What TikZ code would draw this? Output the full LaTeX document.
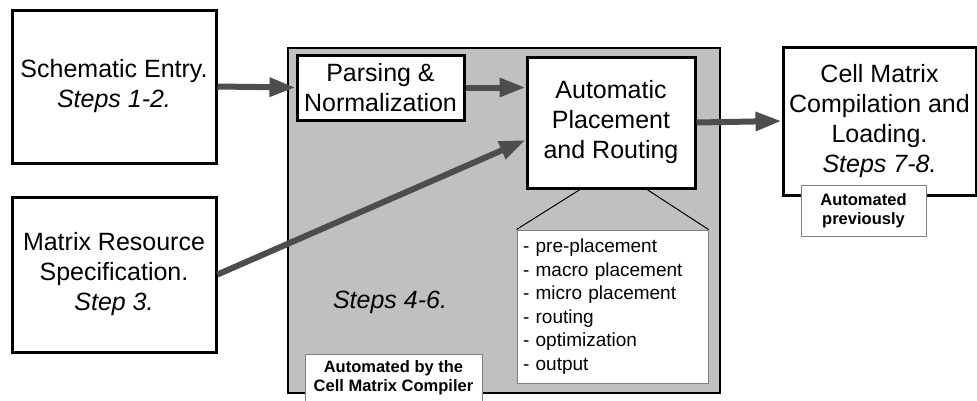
\documentclass[tikz,border=0pt]{standalone}
\usepackage{fontspec}
\setmainfont{Liberation Sans}
\usetikzlibrary{arrows.meta}
\definecolor{panelgray}{HTML}{C0C0C0}
\definecolor{flowgray}{HTML}{4D4D4D}
\definecolor{edgegray}{HTML}{808080}
\begin{document}
\begin{tikzpicture}[
 x=1pt,y=-1pt,
 every node/.style={font=\fontsize{25}{30}\selectfont,inner sep=0pt},
 stage/.style={draw,line width=3pt,fill=white,align=center},
 tag/.style={draw=edgegray,line width=1pt,fill=white,align=center,
  font=\fontsize{16.5}{19.5}\selectfont\bfseries},
 flow/.style={draw=flowgray,line width=6pt,-{Triangle[length=26pt,width=18pt]}}
]
 \useasboundingbox (0,0) rectangle (977,400);

 % the compiler panel holds steps 4 to 6
 \node[draw,line width=2pt,fill=panelgray,minimum width=432pt,minimum height=345pt]
  (compiler) at (504,220.5) {};
 \node (steps) at (390,302) {\textit{Steps 4-6.}};
 \node[tag,minimum width=177pt,minimum height=47pt] (bycompiler) at (393.5,377.5)
  {Automated by the\\Cell Matrix Compiler};

 \node[stage,minimum width=204pt,minimum height=153pt] (schematic) at (114,86.5)
  {Schematic Entry.\\\textit{Steps 1-2.}};
 \node[stage,minimum width=204pt,minimum height=155pt] (resource) at (114,274.5)
  {Matrix Resource\\Specification.\\\textit{Step 3.}};
 \node[stage,minimum width=167pt,minimum height=65pt] (parsing) at (380.5,87.5)
  {Parsing \&\\Normalization};
 \node[stage,minimum width=168pt,minimum height=131pt] (placeroute) at (611,122.5)
  {Automatic\\Placement\\and Routing};
 \node[stage,minimum width=193pt,minimum height=148pt] (loading) at (879.5,121)
  {Cell Matrix\\Compilation and\\Loading.\\\textit{Steps 7-8.}};
 \node[tag,minimum width=125pt,minimum height=51pt] (previously) at (863.5,210.5)
  {Automated\\previously};

 \node[draw=edgegray,line width=1pt,fill=white,text width=179pt,inner xsep=6pt,
  minimum height=153pt,align=left,font=\fontsize{19}{23.5}\selectfont]
  (substeps) at (612.5,306.5)
  {- pre-placement\\- macro placement\\- micro placement\\- routing\\- optimization\\- output};
 \draw[line width=1pt] (substeps.north west) -- ([xshift=-31pt]placeroute.south);
 \draw[line width=1pt] (substeps.north east) -- ([xshift=36pt]placeroute.south);

 \draw[flow] (schematic.east) -- (parsing.west);
 \draw[flow] (parsing.east) -- (parsing.east -| placeroute.west);
 \draw[flow] (resource.east) -- ([yshift=-17.5pt]placeroute.west);
 \draw[flow] (placeroute.east) -- (loading.west);
\end{tikzpicture}
\end{document}
